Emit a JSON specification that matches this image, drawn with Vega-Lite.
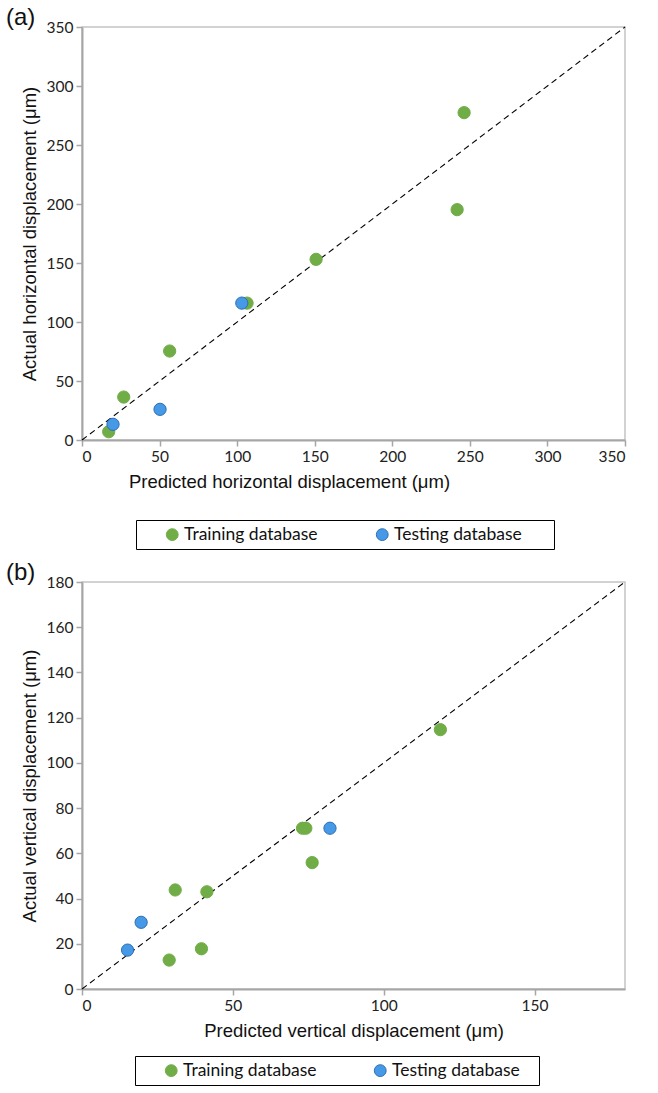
{
  "$schema": "https://vega.github.io/schema/vega-lite/v6.json",
  "background": "white",
  "padding": {"left": 5, "top": 5, "right": 5, "bottom": 0},
  "spacing": 9,
  "config": {
    "view": {"stroke": "#c4c4c4", "strokeWidth": 1.5},
    "axis": {
      "domainColor": "#a6a6a6", "domainWidth": 2, "tickColor": "#a6a6a6", "tickWidth": 1.5, "tickSize": 6,
      "grid": false, "labelFont": "Lato", "labelFontSize": 15.5, "labelColor": "#222222", "labelPadding": 3,
      "titleFont": "Liberation Sans", "titleFontSize": 18.5, "titleFontWeight": "normal", "titleColor": "#111111"
    },
    "legend": {
      "orient": "none", "direction": "horizontal", "strokeColor": "#000000", "fillColor": "#ffffff",
      "padding": 5.5, "labelFont": "Lato", "labelFontSize": 17.5, "labelColor": "#111111", "labelLimit": 400,
      "symbolSize": 140, "symbolStrokeWidth": 1, "labelOffset": 3, "symbolOffset": 22
    },
    "title": {"font": "Liberation Sans", "fontSize": 24, "fontWeight": "normal", "anchor": "start", "frame": "bounds", "color": "#111111"}
  },
  "datasets": {
    "diagA": [{"x": 0, "y": 0}, {"x": 350, "y": 350}],
    "ptsA": [
      {"pred": 17.2, "actual": 7.0, "set": "Training database"},
      {"pred": 26.9, "actual": 36.4, "set": "Training database"},
      {"pred": 56.5, "actual": 75.4, "set": "Training database"},
      {"pred": 106.4, "actual": 116.0, "set": "Training database"},
      {"pred": 150.9, "actual": 153.1, "set": "Training database"},
      {"pred": 241.8, "actual": 195.2, "set": "Training database"},
      {"pred": 246.3, "actual": 277.4, "set": "Training database"},
      {"pred": 20.0, "actual": 13.3, "set": "Testing database"},
      {"pred": 50.3, "actual": 26.0, "set": "Testing database"},
      {"pred": 103.0, "actual": 116.0, "set": "Testing database"}
    ],
    "diagB": [{"x": 0, "y": 0}, {"x": 180, "y": 180}],
    "ptsB": [
      {"pred": 28.9, "actual": 12.8, "set": "Training database"},
      {"pred": 30.9, "actual": 43.8, "set": "Training database"},
      {"pred": 39.6, "actual": 17.8, "set": "Training database"},
      {"pred": 41.4, "actual": 43.0, "set": "Training database"},
      {"pred": 73.1, "actual": 71.1, "set": "Training database"},
      {"pred": 74.2, "actual": 71.1, "set": "Training database"},
      {"pred": 76.3, "actual": 55.9, "set": "Training database"},
      {"pred": 118.8, "actual": 114.7, "set": "Training database"},
      {"pred": 15.1, "actual": 17.2, "set": "Testing database"},
      {"pred": 19.6, "actual": 29.5, "set": "Testing database"},
      {"pred": 82.2, "actual": 71.1, "set": "Testing database"}
    ]
  },
  "resolve": {
    "scale": {"fill": "independent", "stroke": "independent"},
    "legend": {"fill": "independent", "stroke": "independent"}
  },
  "vconcat": [
    {
      "width": 543, "height": 413,
      "title": {"text": "(a)", "dx": -14, "offset": -10},
      "layer": [
        {
          "data": {"name": "diagA"},
          "mark": {"type": "line", "color": "#000000", "strokeDash": [6, 4], "strokeWidth": 1.1},
          "encoding": {
            "x": {"field": "x", "type": "quantitative", "scale": {"domain": [0, 350]}, "title": "Predicted horizontal displacement (μm)",
                  "axis": {"values": [0, 50, 100, 150, 200, 250, 300, 350], "titlePadding": 8, "titleX": 207}},
            "y": {"field": "y", "type": "quantitative", "scale": {"domain": [0, 350]}, "title": "Actual horizontal displacement (μm)",
                  "axis": {"values": [0, 50, 100, 150, 200, 250, 300, 350], "titlePadding": 7}}
          }
        },
        {
          "data": {"name": "ptsA"},
          "mark": {"type": "circle", "size": 150, "opacity": 1, "strokeWidth": 1},
          "encoding": {
            "x": {"field": "pred", "type": "quantitative", "scale": {"domain": [0, 350]}, "title": "Predicted horizontal displacement (μm)"},
            "y": {"field": "actual", "type": "quantitative", "scale": {"domain": [0, 350]}, "title": "Actual horizontal displacement (μm)"},
            "fill": {"field": "set", "type": "nominal", "title": null,
                     "scale": {"domain": ["Training database", "Testing database"], "range": ["#70ad47", "#4699e6"]},
                     "legend": {"legendX": 54, "legendY": 493, "columnPadding": 33, "labelExpr": "datum.label == 'Testing database' ? datum.label + '\u2800\u2800' : datum.label"}},
            "stroke": {"field": "set", "type": "nominal", "title": null,
                       "scale": {"domain": ["Training database", "Testing database"], "range": ["#70ad47", "#2d6eb3"]},
                       "legend": {"legendX": 54, "legendY": 493, "columnPadding": 33, "labelExpr": "datum.label == 'Testing database' ? datum.label + '\u2800\u2800' : datum.label"}}
          }
        }
      ]
    },
    {
      "width": 543, "height": 407,
      "title": {"text": "(b)", "dx": -14, "offset": -10},
      "layer": [
        {
          "data": {"name": "diagB"},
          "mark": {"type": "line", "color": "#000000", "strokeDash": [6, 4], "strokeWidth": 1.1},
          "encoding": {
            "x": {"field": "x", "type": "quantitative", "scale": {"domain": [0, 180]}, "title": "Predicted vertical displacement (μm)",
                  "axis": {"values": [0, 50, 100, 150], "titlePadding": 8}},
            "y": {"field": "y", "type": "quantitative", "scale": {"domain": [0, 180]}, "title": "Actual vertical displacement (μm)",
                  "axis": {"values": [0, 20, 40, 60, 80, 100, 120, 140, 160, 180], "titlePadding": 7}}
          }
        },
        {
          "data": {"name": "ptsB"},
          "mark": {"type": "circle", "size": 150, "opacity": 1, "strokeWidth": 1},
          "encoding": {
            "x": {"field": "pred", "type": "quantitative", "scale": {"domain": [0, 180]}, "title": "Predicted vertical displacement (μm)"},
            "y": {"field": "actual", "type": "quantitative", "scale": {"domain": [0, 180]}, "title": "Actual vertical displacement (μm)"},
            "fill": {"field": "set", "type": "nominal", "title": null,
                     "scale": {"domain": ["Training database", "Testing database"], "range": ["#70ad47", "#4699e6"]},
                     "legend": {"legendX": 53, "legendY": 474, "columnPadding": 32, "labelExpr": "datum.label == 'Testing database' ? datum.label + '\u2800' : datum.label"}},
            "stroke": {"field": "set", "type": "nominal", "title": null,
                       "scale": {"domain": ["Training database", "Testing database"], "range": ["#70ad47", "#2d6eb3"]},
                       "legend": {"legendX": 53, "legendY": 474, "columnPadding": 32, "labelExpr": "datum.label == 'Testing database' ? datum.label + '\u2800' : datum.label"}}
          }
        }
      ]
    }
  ]
}
